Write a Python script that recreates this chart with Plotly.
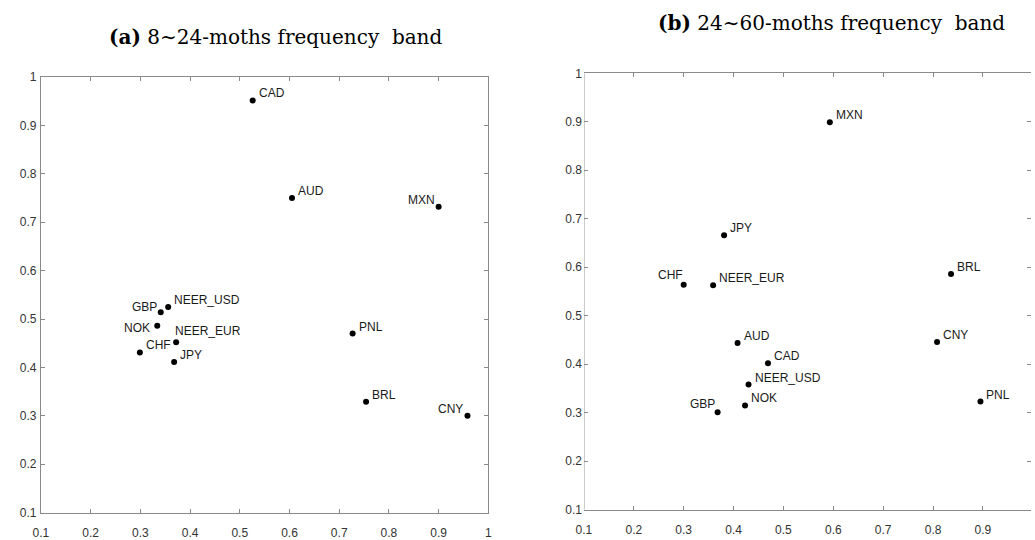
import plotly.graph_objects as go

# ---- data ----
names_a = ["CAD", "AUD", "MXN", "GBP", "NEER_USD", "NOK", "NEER_EUR", "CHF", "JPY", "PNL", "BRL", "CNY"]
x_a = [0.526, 0.605, 0.900, 0.341, 0.356, 0.334, 0.372, 0.299, 0.368, 0.727, 0.754, 0.958]
y_a = [0.952, 0.750, 0.732, 0.514, 0.525, 0.486, 0.452, 0.431, 0.411, 0.470, 0.329, 0.300]

names_b = ["MXN", "JPY", "CHF", "NEER_EUR", "AUD", "CAD", "NEER_USD", "NOK", "GBP", "BRL", "CNY", "PNL"]
x_b = [0.593, 0.381, 0.300, 0.359, 0.408, 0.469, 0.430, 0.423, 0.368, 0.836, 0.808, 0.895]
y_b = [0.899, 0.666, 0.564, 0.563, 0.444, 0.402, 0.358, 0.315, 0.301, 0.586, 0.446, 0.323]

tick_vals = [0.1, 0.2, 0.3, 0.4, 0.5, 0.6, 0.7, 0.8, 0.9, 1.0]
tick_text = ["0.1", "0.2", "0.3", "0.4", "0.5", "0.6", "0.7", "0.8", "0.9", "1"]

title_a = "<b>(a)</b> 8\u223c24-moths frequency  band"
title_b = "<b>(b)</b> 24\u223c60-moths frequency  band"

# ---- label placement (style) ----
left_a = {"MXN": (-3, 7), "GBP": (-3, 5), "NOK": (-6, -2), "CNY": (-3, 7)}
left_b = {"CHF": (0, 10), "GBP": (-2, 8)}
special_a = {"NEER_EUR": (-2, 11)}

W, H = 1035, 540
fig = go.Figure()

axis_color = "#8a8a8a"
tick_font = dict(family="Liberation Sans, Arial, sans-serif", size=12, color="#333333")

fig.add_trace(go.Scatter(x=x_a, y=y_a, mode="markers", xaxis="x", yaxis="y",
                         marker=dict(color="black", size=6, symbol="circle"),
                         showlegend=False, hoverinfo="skip"))
fig.add_trace(go.Scatter(x=x_b, y=y_b, mode="markers", xaxis="x2", yaxis="y2",
                         marker=dict(color="black", size=6, symbol="circle"),
                         showlegend=False, hoverinfo="skip"))

def ax(domain, rng, anchor, standoff, line=True):
    return dict(domain=domain, range=rng, anchor=anchor, tickvals=tick_vals, ticktext=tick_text,
                showline=line, linecolor=axis_color, linewidth=1, mirror="ticks",
                ticks="inside", ticklen=4, tickcolor=axis_color, tickwidth=1,
                showgrid=False, zeroline=False, tickfont=tick_font,
                ticklabelstandoff=standoff)

# pixel layout
xa0, xa1 = 33.3, 486.0
ya_bot, ya_top = 526.0, 73.0
xb0 = 582.7
yb_bot, yb_top = 523.0, 69.0
xb_max = 0.1 + (W - xb0) / 504.6

fig.update_layout(
    width=W, height=H,
    margin=dict(l=0, r=0, t=0, b=0),
    paper_bgcolor="white", plot_bgcolor="white",
    xaxis=ax([xa0 / W, xa1 / W], [0.1, 1.0], "y", 9),
    yaxis=ax([(H - ya_bot) / H, (H - ya_top) / H], [0.1, 1.0], "x", 1),
    xaxis2=ax([xb0 / W, 1.0], [0.1, xb_max], "y2", 9),
    yaxis2=ax([(H - yb_bot) / H, (H - yb_top) / H], [0.1, 1.0], "x2", 1, line=False),
)

# left border of panel (b) (right border lies beyond the canvas)
fig.add_shape(type="line", xref="x2", yref="y2 domain", x0=0.1, x1=0.1, y0=0, y1=1,
              line=dict(color=axis_color, width=1))

label_font = dict(family="Liberation Sans, Arial, sans-serif", size=12, color="#1a1a1a")
annots = []
for names, xs, ys, left, special, xr, yr in [
    (names_a, x_a, y_a, left_a, special_a, "x", "y"),
    (names_b, x_b, y_b, left_b, {}, "x2", "y2"),
]:
    for n, xv, yv in zip(names, xs, ys):
        if n in left:
            dx, dy = left[n]
            anchor = "right"
        elif n in special:
            dx, dy = special[n]
            anchor = "left"
        else:
            dx, dy = 5, 7
            anchor = "left"
        annots.append(dict(x=xv, y=yv, xref=xr, yref=yr, text=n, showarrow=False,
                           xanchor=anchor, yanchor="middle", xshift=dx, yshift=dy,
                           borderpad=0, font=label_font))

title_font = dict(family="DejaVu Serif, serif", size=20, color="black")
annots.append(dict(x=271.5 / W, y=(H - 31) / H, xref="paper", yref="paper", text=title_a,
                   showarrow=False, xanchor="center", yanchor="middle", font=title_font))
annots.append(dict(x=833 / W, y=(H - 17) / H, xref="paper", yref="paper", text=title_b,
                   showarrow=False, xanchor="center", yanchor="middle", font=title_font))
fig.update_layout(annotations=annots)

fig.write_html("out.html")
